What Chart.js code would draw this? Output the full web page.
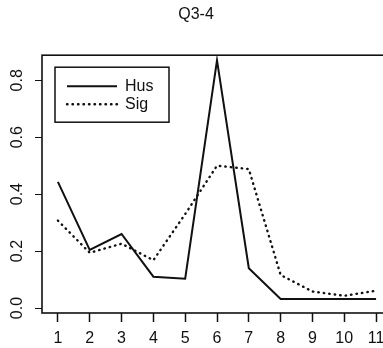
<!DOCTYPE html>
<html>
<head>
<meta charset="utf-8">
<script src="https://cdn.jsdelivr.net/npm/chart.js@4"></script>
<style>
html, body { margin: 0; padding: 0; background: #fff; overflow: hidden; }
</style>
</head>
<body>
<canvas id="chart" width="395" height="348"></canvas>
<script>
// values
const xLabels = [1, 2, 3, 4, 5, 6, 7, 8, 9, 10, 11]
const yTicks = [0, 0.2, 0.4, 0.6, 0.8]
const hus = [0.443, 0.204, 0.26, 0.11, 0.103, 0.87, 0.14, 0.032, 0.032, 0.032, 0.032]
const sig = [0.307, 0.194, 0.226, 0.168, 0.33, 0.5, 0.488, 0.116, 0.058, 0.043, 0.061]

const FONT = '"Liberation Sans", Arial, Helvetica, sans-serif'
const INK = '#111'

const toPoints = (arr) => arr.map((v, i) => ({ x: xLabels[i], y: v }))

// R-style box round the plot region
const boxPlugin = {
    id: 'box',
    beforeDatasetsDraw(chart) {
        const { ctx, chartArea: a } = chart
        ctx.save()
        ctx.strokeStyle = INK
        ctx.lineWidth = 1.6
        ctx.strokeRect(a.left, a.top, a.right - a.left, a.bottom - a.top)
        ctx.restore()
    }
}

// y tick labels rotated like R's las=0
const yLabelPlugin = {
    id: 'ylabels',
    afterDraw(chart) {
        const { ctx } = chart
        const scale = chart.scales.y
        ctx.save()
        ctx.fillStyle = INK
        ctx.font = '16px ' + FONT
        ctx.textAlign = 'center'
        ctx.textBaseline = 'middle'
        yTicks.forEach(function (v) {
            const py = scale.getPixelForValue(v)
            ctx.save()
            ctx.translate(18, py)
            ctx.rotate(-Math.PI / 2)
            ctx.fillText(v.toFixed(1), 0, 0)
            ctx.restore()
        })
        ctx.restore()
    }
}

// legend box in the top-left corner of the plot
const legendPlugin = {
    id: 'rlegend',
    afterDatasetsDraw(chart) {
        const { ctx, chartArea: a } = chart
        const x0 = a.left + 13
        const y0 = a.top + 12
        ctx.save()
        ctx.fillStyle = '#fff'
        ctx.fillRect(x0, y0, 114, 55)
        ctx.strokeStyle = INK
        ctx.lineWidth = 1.5
        ctx.strokeRect(x0, y0, 114, 55)
        ctx.font = '16px ' + FONT
        ctx.textBaseline = 'middle'
        ctx.fillStyle = INK
        chart.data.datasets.forEach(function (ds, i) {
            const ly = y0 + 19 + i * 18
            ctx.beginPath()
            ctx.lineWidth = ds.borderWidth
            ctx.setLineDash(ds.borderDash || [])
            ctx.lineCap = ds.borderCapStyle || 'butt'
            ctx.moveTo(x0 + 12, ly)
            ctx.lineTo(x0 + 62, ly)
            ctx.stroke()
            ctx.setLineDash([])
            ctx.fillText(ds.label, x0 + 70, ly)
        })
        ctx.restore()
    }
}

new Chart(document.getElementById('chart'), {
    type: 'line',
    data: {
        datasets: [
            {
                label: 'Hus',
                data: toPoints(hus),
                borderColor: INK,
                borderWidth: 2,
                pointRadius: 0,
                tension: 0
            },
            {
                label: 'Sig',
                data: toPoints(sig),
                borderColor: INK,
                borderWidth: 2.4,
                borderDash: [0.5, 5],
                borderCapStyle: 'round',
                pointRadius: 0,
                tension: 0
            }
        ]
    },
    options: {
        responsive: false,
        animation: false,
        layout: { padding: { left: 0, right: 3, top: 0, bottom: 0 } },
        scales: {
            x: {
                type: 'linear',
                min: 0.5,
                max: 11.5,
                afterBuildTicks(scale) {
                    scale.ticks = xLabels.map((v) => ({ value: v }))
                },
                afterFit(scale) {
                    scale.height = 35
                },
                border: { display: false },
                grid: {
                    drawOnChartArea: false,
                    tickLength: 9,
                    tickWidth: 1.5,
                    tickColor: INK
                },
                ticks: {
                    color: INK,
                    font: { family: FONT, size: 16 },
                    padding: 7,
                    maxRotation: 0,
                    autoSkip: false
                }
            },
            y: {
                min: -0.0175,
                max: 0.888,
                afterBuildTicks(scale) {
                    scale.ticks = yTicks.map((v) => ({ value: v }))
                },
                afterFit(scale) {
                    scale.width = 42
                },
                border: { display: false },
                grid: {
                    drawOnChartArea: false,
                    tickLength: 7,
                    tickWidth: 1,
                    tickColor: INK
                },
                ticks: { display: false }
            }
        },
        plugins: {
            legend: { display: false },
            tooltip: { enabled: false },
            title: {
                display: true,
                text: 'Q3-4',
                color: INK,
                font: { family: FONT, size: 16, weight: 'normal' },
                padding: { top: 5, bottom: 31 }
            }
        }
    },
    plugins: [boxPlugin, yLabelPlugin, legendPlugin]
})
</script>
</body>
</html>
